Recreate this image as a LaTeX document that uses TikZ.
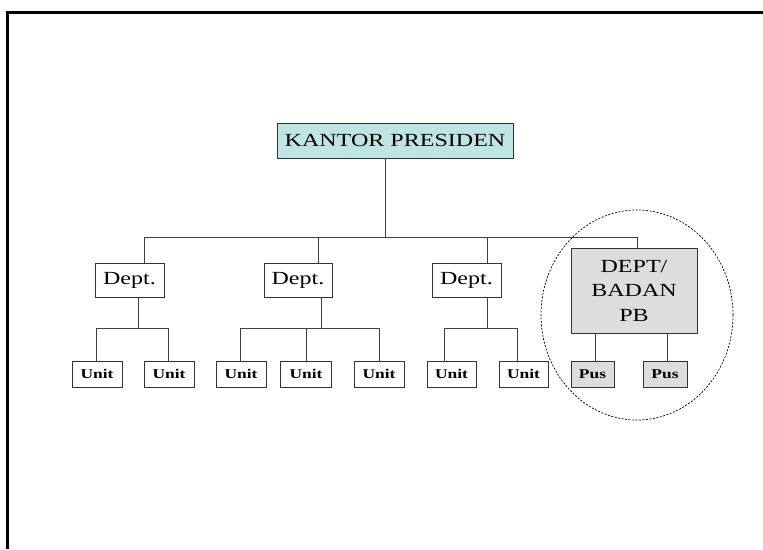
\documentclass[tikz,border=0pt]{standalone}
\usepackage{fontspec}
\setmainfont{Liberation Serif}
\usepackage{graphicx}
\usepackage{xcolor}
\definecolor{kpcyan}{RGB}{191,228,228}
\definecolor{pbgray}{RGB}{221,221,221}
\newcommand{\wide}[1]{\scalebox{1.3}[1]{#1}}

\begin{document}
\begin{tikzpicture}[x=1pt, y=-1pt,
	box/.style={draw=black!80, line width=0.9pt, inner sep=0pt, font=\fontsize{18.5}{24.5}\selectfont},
	unitbox/.style={draw=black!80, line width=0.9pt, inner sep=0pt, minimum height=26pt, font=\fontsize{13.4}{14}\selectfont\bfseries},
	link/.style={draw=black!75, line width=0.9pt}]
	\useasboundingbox (0,0) rectangle (763,549);
	\draw[line width=3pt] (763,12) -- (7,12) -- (7,549);
%	top
	\node[box, fill=kpcyan, minimum width=236pt, minimum height=35pt] (kp) at (395,140.5) {\wide{KANTOR PRESIDEN}};
	\node[box, minimum width=69pt, minimum height=34pt] (d1) at (129.5,280) {\wide{Dept.}};
	\node[box, minimum width=68pt, minimum height=34pt] (d2) at (298,280) {\wide{Dept.}};
	\node[box, minimum width=69pt, minimum height=34pt] (d3) at (466.5,280) {\wide{Dept.}};
	\node[box, fill=pbgray, minimum width=126pt, minimum height=85pt, align=center] (pb) at (634,290.5) {\wide{DEPT/}\\\wide{BADAN}\\\wide{PB}};
	\coordinate (top) at (385,237);
	\coordinate (t1) at (144,237);
	\coordinate (t2) at (318,237);
	\coordinate (t3) at (487,237);
	\coordinate (t4) at (637,237);
	\draw[link] (kp.south -| top) -- (top);
	\draw[link] (d1.north -| t1) -- (t1) -- (t4) -- (pb.north -| t4);
	\draw[link] (t2) -- (d2.north -| t2);
	\draw[link] (t3) -- (d3.north -| t3);
%	units
	\node[unitbox, minimum width=50pt] (u1) at (97,374) {\wide{Unit}};
	\node[unitbox, minimum width=50pt] (u2) at (169,374) {\wide{Unit}};
	\node[unitbox, minimum width=50pt] (u3) at (241,374) {\wide{Unit}};
	\node[unitbox, minimum width=51pt] (u4) at (306,374) {\wide{Unit}};
	\node[unitbox, minimum width=50pt] (u5) at (379,374) {\wide{Unit}};
	\node[unitbox, minimum width=49pt] (u6) at (451.5,374) {\wide{Unit}};
	\node[unitbox, minimum width=49pt] (u7) at (523.5,374) {\wide{Unit}};
	\node[unitbox, fill=pbgray, minimum width=43pt] (p1) at (592.5,374) {\wide{Pus}};
	\node[unitbox, fill=pbgray, minimum width=44pt] (p2) at (665,374) {\wide{Pus}};
	\coordinate (m1) at (138,328);
	\coordinate (l1) at (96,328);
	\coordinate (r1) at (168,328);
	\draw[link] (d1.south -| m1) -- (m1);
	\draw[link] (u1.north -| l1) -- (l1) -- (r1) -- (u2.north -| r1);
	\coordinate (m2) at (321,328);
	\coordinate (l2) at (240,328);
	\coordinate (r2) at (379,328);
	\draw[link] (d2.south -| m2) -- (m2);
	\draw[link] (u3.north -| l2) -- (l2) -- (r2) -- (u5.north -| r2);
	\draw[link] (u4.north) -- (u4.north |- m2);
	\coordinate (m3) at (487,328);
	\coordinate (l3) at (444,328);
	\coordinate (r3) at (517,328);
	\draw[link] (d3.south -| m3) -- (m3);
	\draw[link] (u6.north -| l3) -- (l3) -- (r3) -- (u7.north -| r3);
	\draw[link] (pb.south -| 595,0) -- (p1.north -| 595,0);
	\draw[link] (pb.south -| 667,0) -- (p2.north -| 667,0);
%	circle round the PB branch
	\draw[dash pattern=on 2pt off 1.5pt, line width=0.7pt] (637,315) ellipse (96 and 105);
\end{tikzpicture}
\end{document}
